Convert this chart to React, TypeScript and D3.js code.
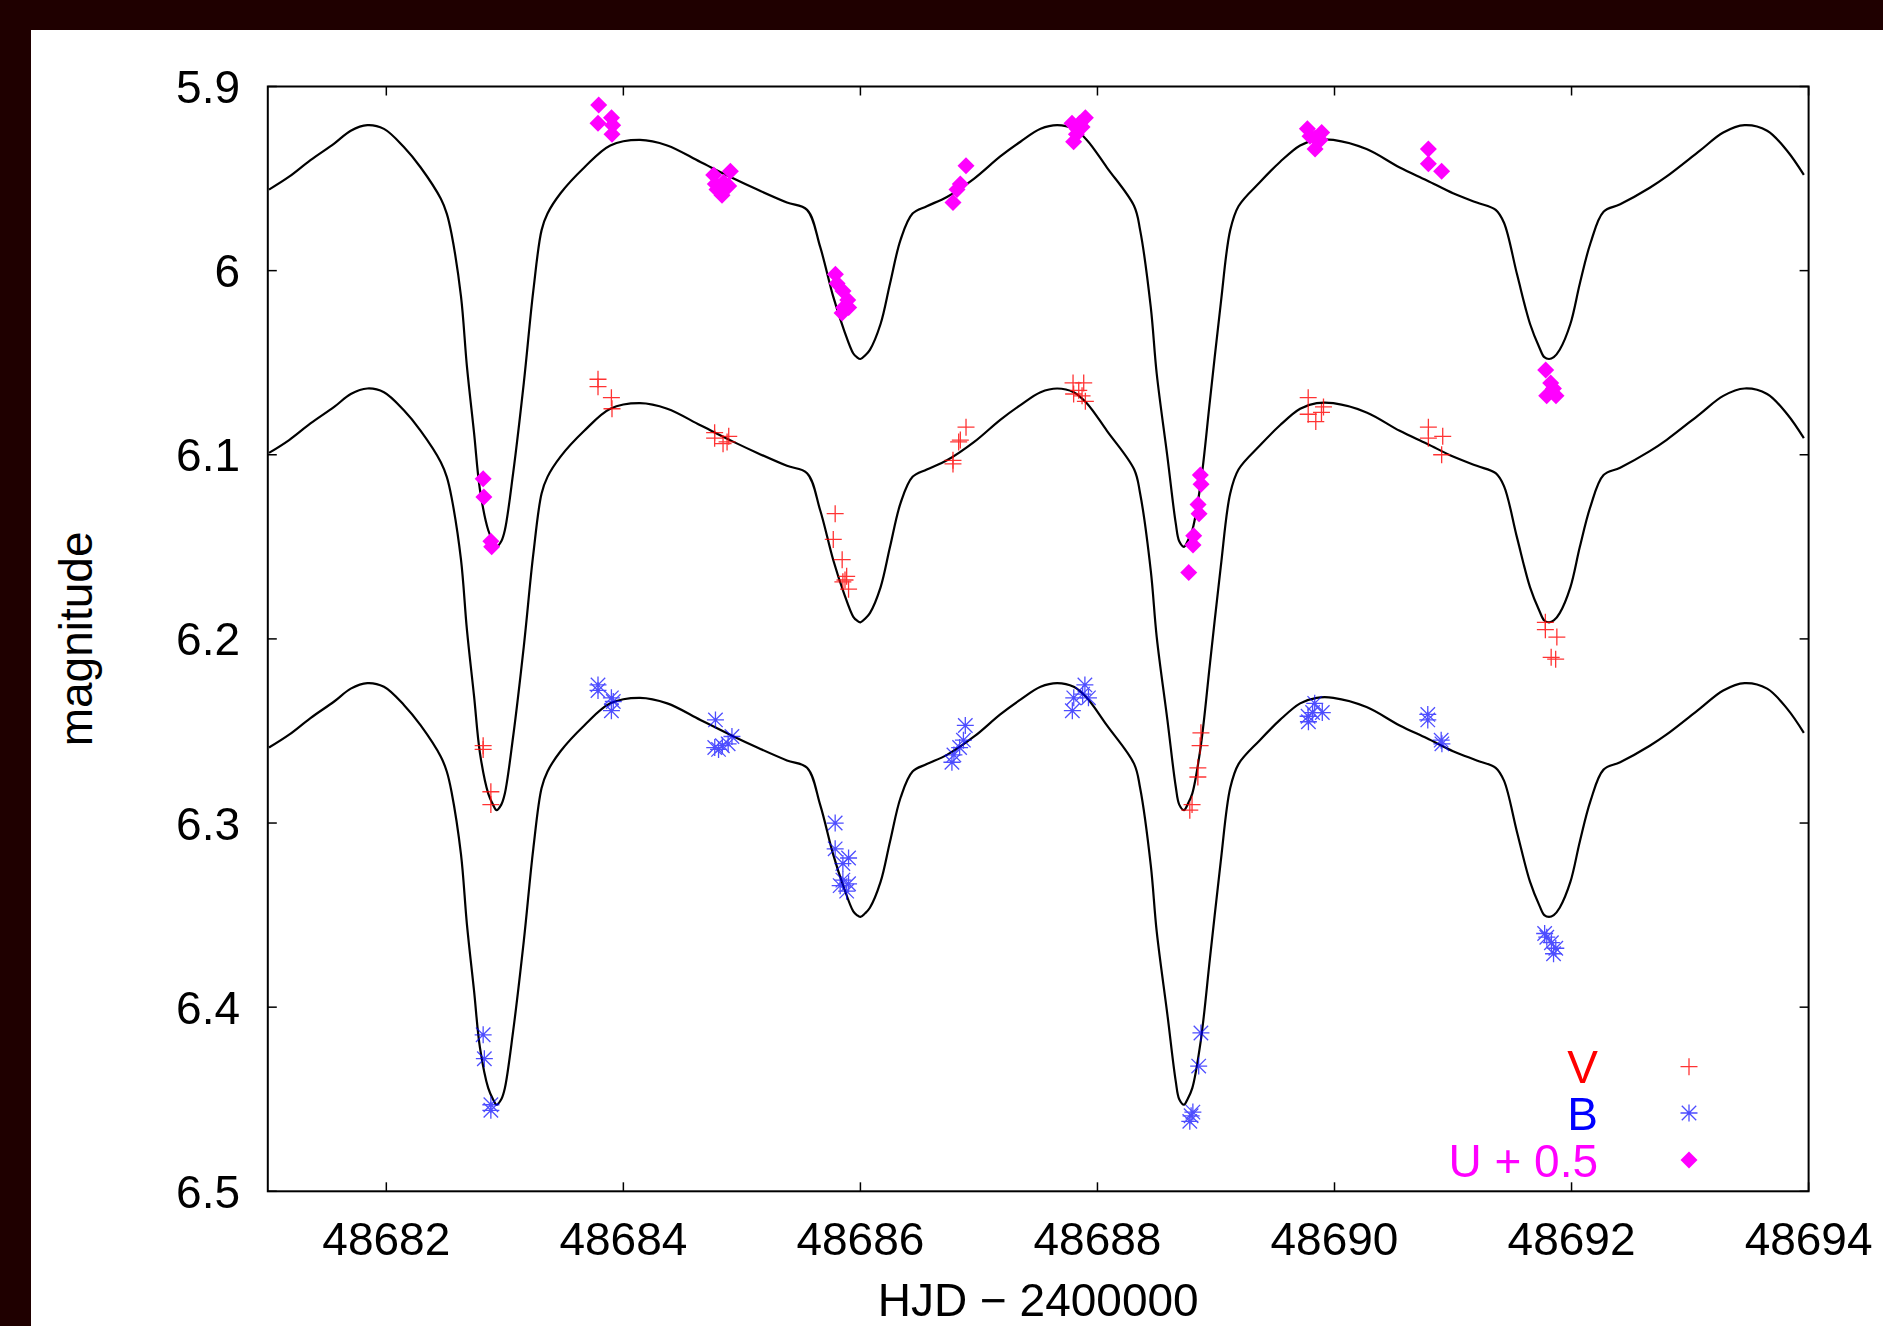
import React from "react";
import * as d3 from "d3";

const W = 1883;
const H = 1326;

// ---- axes ----
const xDomain = [48681, 48694];
const yDomain = [5.9, 6.5];
const xTicks = [48682, 48684, 48686, 48688, 48690, 48692, 48694];
const xTickLabels = ["48682", "48684", "48686", "48688", "48690", "48692", "48694"];
const yTicks = [5.9, 6.0, 6.1, 6.2, 6.3, 6.4, 6.5];
const yTickLabels = ["5.9", "6", "6.1", "6.2", "6.3", "6.4", "6.5"];

// ---- model light curves ----
const modelDay = [
  48681.01, 48681.18, 48681.36, 48681.56, 48681.70, 48681.84, 48681.98, 48682.15, 48682.29, 48682.46,
  48682.51, 48682.55, 48682.63, 48682.68, 48682.74, 48682.79, 48682.86, 48682.90, 48682.93, 48682.97,
  48683.00, 48683.07, 48683.16, 48683.24, 48683.31, 48683.36, 48683.47, 48683.67, 48683.89, 48684.14,
  48684.37, 48684.65, 48684.93, 48685.13, 48685.38, 48685.55, 48685.66, 48685.77, 48685.86, 48685.94,
  48685.97, 48686.00, 48686.04, 48686.08, 48686.17, 48686.25, 48686.34, 48686.44, 48686.56, 48686.73,
  48686.96, 48687.18, 48687.35, 48687.52, 48687.66, 48687.80, 48687.91, 48688.08, 48688.31, 48688.36,
  48688.45, 48688.50, 48688.59, 48688.66, 48688.69, 48688.73, 48688.76, 48688.80, 48688.87, 48688.95,
  48689.04, 48689.12, 48689.19, 48689.37, 48689.54, 48689.71, 48689.85, 48689.99, 48690.27, 48690.55,
  48690.78, 48691.00, 48691.20, 48691.36, 48691.43, 48691.54, 48691.65, 48691.73, 48691.77, 48691.81,
  48691.85, 48691.90, 48691.99, 48692.07, 48692.16, 48692.27, 48692.41, 48692.66, 48692.80, 48693.08,
  48693.28, 48693.46, 48693.65, 48693.82, 48693.96,
];
const modelU = [
  5.956, 5.949, 5.940, 5.931, 5.924, 5.921, 5.923, 5.933, 5.944, 5.961,
  5.969, 5.980, 6.014, 6.052, 6.088, 6.119, 6.141, 6.147, 6.150, 6.147,
  6.141, 6.110, 6.061, 6.011, 5.978, 5.969, 5.958, 5.944, 5.932, 5.929,
  5.932, 5.941, 5.950, 5.956, 5.963, 5.967, 5.987, 6.014, 6.032, 6.045,
  6.047, 6.048, 6.046, 6.043, 6.029, 6.007, 5.983, 5.969, 5.965, 5.960,
  5.950, 5.938, 5.930, 5.923, 5.921, 5.923, 5.929, 5.944, 5.965, 5.978,
  6.020, 6.056, 6.101, 6.137, 6.147, 6.150, 6.147, 6.141, 6.116, 6.070,
  6.018, 5.978, 5.965, 5.952, 5.941, 5.932, 5.929, 5.929, 5.934, 5.944,
  5.951, 5.958, 5.963, 5.967, 5.974, 6.002, 6.029, 6.042, 6.047, 6.048,
  6.047, 6.043, 6.029, 6.007, 5.985, 5.968, 5.964, 5.955, 5.949, 5.935,
  5.925, 5.921, 5.924, 5.935, 5.948,
];
const modelV = [
  6.099, 6.092, 6.083, 6.074, 6.067, 6.064, 6.066, 6.076, 6.087, 6.104,
  6.112, 6.123, 6.157, 6.195, 6.231, 6.262, 6.284, 6.290, 6.293, 6.290,
  6.284, 6.253, 6.204, 6.154, 6.121, 6.112, 6.101, 6.087, 6.075, 6.072,
  6.075, 6.084, 6.093, 6.099, 6.106, 6.110, 6.130, 6.157, 6.175, 6.188,
  6.190, 6.191, 6.189, 6.186, 6.172, 6.150, 6.126, 6.112, 6.108, 6.103,
  6.093, 6.081, 6.073, 6.066, 6.064, 6.066, 6.072, 6.087, 6.108, 6.121,
  6.163, 6.199, 6.244, 6.280, 6.290, 6.293, 6.290, 6.284, 6.259, 6.213,
  6.161, 6.121, 6.108, 6.095, 6.084, 6.075, 6.072, 6.072, 6.077, 6.087,
  6.094, 6.101, 6.106, 6.110, 6.117, 6.145, 6.172, 6.185, 6.190, 6.191,
  6.190, 6.186, 6.172, 6.150, 6.128, 6.111, 6.107, 6.098, 6.092, 6.078,
  6.068, 6.064, 6.067, 6.078, 6.091,
];
const modelB = [
  6.259, 6.252, 6.243, 6.234, 6.227, 6.224, 6.226, 6.236, 6.247, 6.264,
  6.272, 6.283, 6.317, 6.355, 6.391, 6.422, 6.444, 6.450, 6.453, 6.450,
  6.444, 6.413, 6.364, 6.314, 6.281, 6.272, 6.261, 6.247, 6.235, 6.232,
  6.235, 6.244, 6.253, 6.259, 6.266, 6.270, 6.290, 6.317, 6.335, 6.348,
  6.350, 6.351, 6.349, 6.346, 6.332, 6.310, 6.286, 6.272, 6.268, 6.263,
  6.253, 6.241, 6.233, 6.226, 6.224, 6.226, 6.232, 6.247, 6.268, 6.281,
  6.323, 6.359, 6.404, 6.440, 6.450, 6.453, 6.450, 6.444, 6.419, 6.373,
  6.321, 6.281, 6.268, 6.255, 6.244, 6.235, 6.232, 6.232, 6.237, 6.247,
  6.254, 6.261, 6.266, 6.270, 6.277, 6.305, 6.332, 6.345, 6.350, 6.351,
  6.350, 6.346, 6.332, 6.310, 6.288, 6.271, 6.267, 6.258, 6.252, 6.238,
  6.228, 6.224, 6.227, 6.238, 6.251,
];

// ---- observations ----
const vDay = [
  48682.817, 48682.817, 48682.882, 48682.882, 48683.786, 48683.786, 48683.899, 48683.904,
  48684.770, 48684.770, 48684.841, 48684.889, 48684.875,
  48685.787, 48685.771, 48685.846, 48685.884, 48685.852, 48685.900, 48685.870,
  48686.891, 48686.843, 48686.829, 48686.781, 48686.781,
  48687.794, 48687.884, 48687.842, 48687.870, 48687.898, 48687.799,
  48688.873, 48688.866, 48688.847, 48688.847, 48688.798, 48688.779,
  48689.778, 48689.907, 48689.890, 48689.778, 48689.842,
  48690.792, 48690.792, 48690.913, 48690.904,
  48691.779, 48691.779, 48691.876, 48691.828, 48691.866,
];
const vMag = [
  6.258, 6.260, 6.283, 6.290, 6.059, 6.063, 6.069, 6.075,
  6.088, 6.091, 6.094, 6.090, 6.093,
  6.132, 6.146, 6.157, 6.166, 6.169, 6.173, 6.168,
  6.085, 6.092, 6.093, 6.103, 6.105,
  6.061, 6.061, 6.065, 6.068, 6.071, 6.067,
  6.251, 6.258, 6.270, 6.275, 6.290, 6.293,
  6.069, 6.074, 6.077, 6.078, 6.082,
  6.085, 6.091, 6.090, 6.100,
  6.191, 6.195, 6.199, 6.210, 6.211,
];
const bDay = [
  48682.817, 48682.827, 48682.882, 48682.882,
  48683.786, 48683.786, 48683.899, 48683.915, 48683.899,
  48684.777, 48684.771, 48684.835, 48684.916, 48684.884, 48684.803,
  48685.787, 48685.787, 48685.900, 48685.852, 48685.852, 48685.900, 48685.884, 48685.829,
  48686.885, 48686.869, 48686.837, 48686.789, 48686.772,
  48687.894, 48687.800, 48687.875, 48687.788, 48687.924,
  48688.873, 48688.854, 48688.805, 48688.779, 48688.790,
  48689.777, 48689.833, 48689.897, 48689.815, 48689.780,
  48690.787, 48690.787, 48690.900, 48690.906,
  48691.773, 48691.791, 48691.867, 48691.848, 48691.830,
];
const bMag = [
  6.415, 6.428, 6.453, 6.456,
  6.225, 6.228, 6.232, 6.234, 6.239,
  6.244, 6.259, 6.258, 6.253, 6.257, 6.260,
  6.300, 6.314, 6.319, 6.322, 6.331, 6.333, 6.337, 6.334,
  6.247, 6.255, 6.259, 6.263, 6.267,
  6.225, 6.232, 6.230, 6.239, 6.232,
  6.414, 6.432, 6.457, 6.462, 6.459,
  6.242, 6.235, 6.240, 6.240, 6.245,
  6.241, 6.244, 6.255, 6.257,
  6.360, 6.362, 6.368, 6.371, 6.365,
];
// plotted values of U + 0.5
const uDay = [
  48682.817, 48682.823, 48682.882, 48682.889,
  48683.792, 48683.786, 48683.900, 48683.910, 48683.904,
  48684.762, 48684.903, 48684.776, 48684.847, 48684.889, 48684.832, 48684.790,
  48685.789, 48685.803, 48685.853, 48685.893, 48685.859, 48685.845, 48685.901,
  48686.891, 48686.843, 48686.815, 48686.781,
  48687.898, 48687.850, 48687.785, 48687.828, 48687.870, 48687.799, 48687.822,
  48688.868, 48688.874, 48688.849, 48688.857, 48688.812, 48688.806, 48688.770,
  48689.771, 48689.892, 48689.836, 48689.793, 48689.878, 48689.836,
  48690.792, 48690.792, 48690.904,
  48691.782, 48691.824, 48691.790, 48691.869, 48691.847,
];
const uMag = [
  6.113, 6.123, 6.147, 6.150,
  5.910, 5.920, 5.917, 5.921, 5.926,
  5.948, 5.946, 5.953, 5.952, 5.954, 5.959, 5.956,
  6.002, 6.007, 6.011, 6.016, 6.020, 6.023, 6.020,
  5.943, 5.953, 5.956, 5.963,
  5.917, 5.920, 5.920, 5.923, 5.922, 5.930, 5.926,
  6.111, 6.116, 6.127, 6.132, 6.144, 6.149, 6.164,
  5.923, 5.925, 5.928, 5.927, 5.929, 5.934,
  5.934, 5.942, 5.946,
  6.054, 6.061, 6.068, 6.068, 6.064,
];

const legendLabels = ["V", "B", "U + 0.5"];
const legendColors = ["#ff0000", "#0000ff", "#ff00ff"];

const FONT = "'Liberation Sans', Arial, Helvetica, sans-serif";
const FS = 46;

const plusPath = (s: number) => `M${-s},0H${s}M0,${-s}V${s}`;
const starPath = (s: number) =>
  `M${-s},0H${s}M0,${-s}V${s}M${-s * 0.85},${-s * 0.85}L${s * 0.85},${s * 0.85}M${-s * 0.85},${s * 0.85}L${s * 0.85},${-s * 0.85}`;
const diamondPath = (s: number) => `M0,${-s}L${s},0L0,${s}L${-s},0Z`;

export default function App() {
  if (typeof document !== "undefined") {
    document.body.style.margin = "0";
    document.body.style.overflow = "hidden";
  }
  const L = 267.8, R = 1808.6, T = 86.5, B = 1191.3;
  const x = d3.scaleLinear().domain(xDomain).range([L, R]);
  const y = d3.scaleLinear().domain(yDomain).range([T, B]);
  const line = d3
    .line<number>()
    .x((_, i) => x(modelDay[i]))
    .curve(d3.curveCatmullRom.alpha(0.5));
  const curves = [modelU, modelV, modelB].map((arr) =>
    line.y((v) => y(v))(arr) as string
  );
  const tickLen = 9;
  const legendY = [1066.7, 1113, 1160];

  return (
    <svg
      width={W}
      height={H}
      style={{ position: "absolute", left: 0, top: 0, background: "#fff" }}
      fontFamily={FONT}
    >
      <rect x={0} y={0} width={W} height={H} fill="#ffffff" />
      <rect x={0} y={0} width={W} height={30} fill="#1f0000" />
      <rect x={0} y={0} width={31} height={H} fill="#1f0000" />

      {/* model curves */}
      {curves.map((d, i) => (
        <path key={"c" + i} d={d} fill="none" stroke="#000" strokeWidth={2.2} strokeLinejoin="round" />
      ))}

      {/* observations */}
      <g stroke="#ff0000" strokeWidth={1.3} opacity={0.8}>
        {vDay.map((d, i) => (
          <path key={"v" + i} d={plusPath(8.5)} transform={`translate(${x(d)},${y(vMag[i])})`} />
        ))}
      </g>
      <g stroke="#0000ff" strokeWidth={1.3} opacity={0.7}>
        {bDay.map((d, i) => (
          <path key={"b" + i} d={starPath(8.5)} transform={`translate(${x(d)},${y(bMag[i])})`} />
        ))}
      </g>
      <g fill="#ff00ff">
        {uDay.map((d, i) => (
          <path key={"u" + i} d={diamondPath(8.5)} transform={`translate(${x(d)},${y(uMag[i])})`} />
        ))}
      </g>

      {/* frame */}
      <rect x={L} y={T} width={R - L} height={B - T} fill="none" stroke="#000" strokeWidth={2} />

      {/* ticks */}
      {xTicks.map((t, i) => (
        <g key={"xt" + i}>
          <line x1={x(t)} x2={x(t)} y1={B} y2={B - tickLen} stroke="#000" strokeWidth={1.5} />
          <line x1={x(t)} x2={x(t)} y1={T} y2={T + tickLen} stroke="#000" strokeWidth={1.5} />
          <text x={x(t)} y={1255} textAnchor="middle" fontSize={FS} fill="#000">
            {xTickLabels[i]}
          </text>
        </g>
      ))}
      {yTicks.map((t, i) => (
        <g key={"yt" + i}>
          <line x1={L} x2={L + tickLen} y1={y(t)} y2={y(t)} stroke="#000" strokeWidth={1.5} />
          <line x1={R} x2={R - tickLen} y1={y(t)} y2={y(t)} stroke="#000" strokeWidth={1.5} />
          <text x={240} y={y(t) + 16.5} textAnchor="end" fontSize={FS} fill="#000">
            {yTickLabels[i]}
          </text>
        </g>
      ))}

      {/* axis labels */}
      <text x={(L + R) / 2} y={1316} textAnchor="middle" fontSize={FS} fill="#000">
        HJD − 2400000
      </text>
      <text
        transform={`translate(92,${(T + B) / 2}) rotate(-90)`}
        textAnchor="middle"
        fontSize={FS}
        fill="#000"
      >
        magnitude
      </text>

      {/* legend */}
      {legendLabels.map((lab, i) => (
        <g key={"lg" + i}>
          <text x={1598} y={legendY[i] + 16.5} textAnchor="end" fontSize={FS} fill={legendColors[i]}>
            {lab}
          </text>
        </g>
      ))}
      <path d={plusPath(8.5)} transform={`translate(1689,${legendY[0]})`} stroke="#ff0000" strokeWidth={1.3} opacity={0.8} />
      <path d={starPath(8.5)} transform={`translate(1689,${legendY[1]})`} stroke="#0000ff" strokeWidth={1.3} opacity={0.7} />
      <path d={diamondPath(8.5)} transform={`translate(1689,${legendY[2]})`} fill="#ff00ff" />
    </svg>
  );
}
